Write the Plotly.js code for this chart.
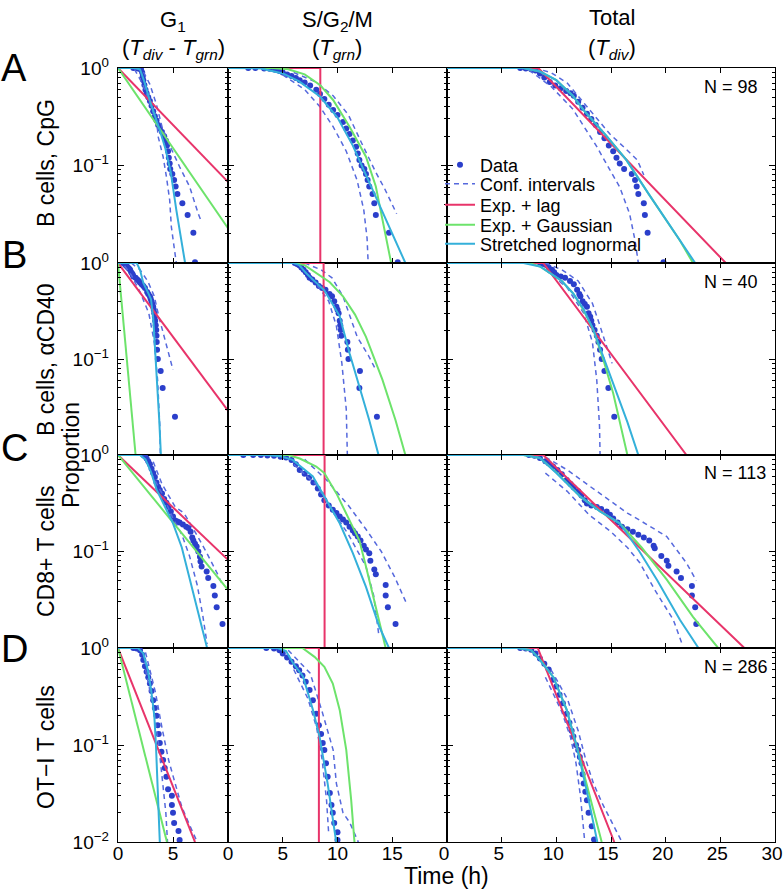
<!DOCTYPE html>
<html><head><meta charset="utf-8">
<script src="https://cdn.plot.ly/plotly-3.0.1.min.js"></script>
<style>html,body{margin:0;padding:0;background:#fff}</style>
</head><body><div id="chart" style="width:784px;height:892px"></div>
<script>
// ---------- Data (time in h, proportion remaining) ----------
// Row A: B cells, CpG  (N = 98)
const A1_dataT = [1.4,1.6,1.8,2.0,2.1,2.2,2.25,2.3,2.4,2.5,2.6,2.75,2.9,3.05,3.2,3.35,3.5,3.65,3.8,4.0,4.2,4.35,4.45,4.55,4.62,4.7,4.75,4.94,5.1,5.24,5.4,5.85,6.33,6.85,7.0];
const A1_dataP = [1.0,1.0,0.99,0.98,0.96,0.9,0.82,0.75,0.67,0.6,0.55,0.5,0.46,0.41,0.36,0.32,0.29,0.26,0.24,0.22,0.2,0.18,0.16,0.14,0.12,0.105,0.092,0.082,0.071,0.061,0.051,0.041,0.031,0.0204,0.0102];
const A1_ciLoT = [1.5,2.2,2.7,3.2,3.55,3.64,4.1,4.4,4.7,4.85,5.18,5.3];
const A1_ciLoP = [0.97,0.7,0.5,0.35,0.27,0.2,0.123,0.077,0.044,0.0235,0.0126,0.01];
const A1_ciHiT = [1.6,2.3,2.9,3.5,4.0,4.6,5.6,6.5,7.3,7.5];
const A1_ciHiP = [1.0,0.92,0.68,0.42,0.25,0.17,0.097,0.061,0.032,0.028];
const A1_lagT = [0,10];   const A1_lagP = [1,0.068];
const A1_gauT = [0,10];   const A1_gauP = [1,0.0227];
const A1_slnT = [0,1.5,2.0,2.4,2.9,3.3,3.8,4.3,4.8,5.3,5.8,6.1];
const A1_slnP = [1,1,0.97,0.72,0.46,0.34,0.23,0.15,0.085,0.035,0.016,0.01];

const A2_dataT = [1.85,2.5,3.3,3.8,4.3,4.7,5.0,5.4,5.8,6.2,6.55,7.0,7.5,8.06,8.4,8.8,9.2,9.6,10.0,10.5,10.8,11.1,11.4,11.7,11.85,12.0,12.2,12.45,12.6,12.75,12.9,13.2,13.36,13.5,14.7,15.5];
const A2_dataP = [1,1,0.99,0.98,0.96,0.93,0.9,0.86,0.83,0.79,0.75,0.71,0.66,0.6,0.54,0.48,0.42,0.37,0.33,0.28,0.24,0.21,0.18,0.156,0.133,0.114,0.1,0.092,0.082,0.071,0.061,0.051,0.041,0.031,0.0204,0.0102];
const A2_ciLoT = [5,7,8.4,9.6,10.8,11.8,12.4,12.7,12.8];
const A2_ciLoP = [0.85,0.6,0.4,0.25,0.14,0.07,0.035,0.018,0.01];
const A2_ciHiT = [6,8,9.6,11,12.2,13.5,14.3,15.4];
const A2_ciHiP = [0.9,0.72,0.52,0.33,0.17,0.085,0.058,0.032];
const A2_lagT = [0,8.43,8.43]; const A2_lagP = [1,1,0.001];
const A2_gauT = [0,4,5.5,7,8.4,9.6,11.1,12.6,13.5,14.4,14.9];
const A2_gauP = [1,1,0.97,0.86,0.67,0.47,0.25,0.123,0.061,0.02,0.01];
const A2_slnT = [0,3,5,6.5,8.4,10,11.4,12.6,13.8,15.3,16.2];
const A2_slnP = [1,0.99,0.88,0.73,0.51,0.31,0.16,0.08,0.04,0.017,0.01];

const A3_dataT = [6.7,7.2,7.7,8.1,8.5,8.9,9.4,9.9,10.4,10.9,11.3,11.6,12.0,12.4,12.8,13.2,13.6,14.0,14.4,14.8,15.2,15.5,15.8,16.2,16.9,17.2,17.35,17.5,18.0,18.1,18.35,19.8];
const A3_dataP = [1,0.99,0.97,0.94,0.88,0.8,0.72,0.66,0.62,0.58,0.55,0.52,0.45,0.39,0.34,0.3,0.26,0.22,0.19,0.16,0.14,0.12,0.105,0.092,0.082,0.071,0.061,0.051,0.041,0.031,0.0204,0.0102];
const A3_ciLoT = [7.5,9.5,11.5,13.7,14.9,15.8,16.7,17.2,17.5];
const A3_ciLoP = [0.95,0.65,0.38,0.156,0.09,0.06,0.032,0.017,0.01];
const A3_ciHiT = [8,9.5,11,13.1,14.9,16.3,17.4,18.0];
const A3_ciHiP = [1,0.9,0.7,0.37,0.21,0.15,0.114,0.08];
const A3_lagT = [0,8.35,25.5]; const A3_lagP = [1,1,0.01];
const A3_gauT = [0,7,8.5,10,11.5,12.5,14.6,16.4,18.5,21.3,22.5];
const A3_gauP = [1,1,0.92,0.75,0.52,0.37,0.2,0.114,0.05,0.017,0.01];
const A3_slnT = [0,7,8.5,10,11.5,12.5,14.6,16.4,18.5,21.3,22.7];
const A3_slnP = [1,1,0.92,0.75,0.52,0.37,0.2,0.114,0.05,0.017,0.01];

// Row B: B cells, aCD40 (N = 40)
const B1_dataT = [0.45,0.6,0.7,0.8,0.9,1.0,1.1,1.2,1.3,1.35,1.4,1.6,1.75,1.9,2.0,2.15,2.3,2.45,2.65,2.75,2.9,2.97,3.05,3.12,3.2,3.25,3.3,3.35,3.38,3.43,3.48,3.5,3.52,3.55,3.62,3.88,4.06,5.18];
const B1_dataP = [1,0.975,0.95,0.925,0.9,0.875,0.85,0.8,0.775,0.75,0.725,0.7,0.675,0.65,0.625,0.6,0.575,0.55,0.5,0.475,0.45,0.425,0.4,0.375,0.35,0.325,0.3,0.275,0.25,0.225,0.2,0.175,0.15,0.125,0.1,0.075,0.05,0.025];
const B1_ciLoT = [0.6,1.2,2,2.8,3.3,3.6,3.8,3.85];
const B1_ciLoP = [0.93,0.75,0.5,0.3,0.15,0.06,0.02,0.01];
const B1_ciHiT = [1.2,2.0,2.7,3.3,3.7,4.2,4.6,5.0];
const B1_ciHiP = [1,0.85,0.65,0.45,0.28,0.17,0.11,0.077];
const B1_lagT = [0,10];  const B1_lagP = [1,0.029];
const B1_gauT = [0,1.6]; const B1_gauP = [1,0.01];
const B1_slnT = [0,1.7,2.0,2.3,2.7,3.0,3.2,3.5,3.75,3.9];
const B1_slnP = [1,1,0.85,0.62,0.5,0.42,0.27,0.077,0.023,0.01];

const B2_dataT = [6.1,6.3,6.5,6.7,6.9,7.1,7.3,7.45,7.7,8.0,8.3,8.6,8.9,9.27,9.5,9.7,9.9,10.0,10.1,10.2,10.25,10.3,10.35,10.9,10.95,11.0,12.05,12.0,13.6];
const B2_dataP = [1,0.975,0.95,0.9,0.85,0.8,0.75,0.7,0.675,0.625,0.575,0.55,0.525,0.475,0.45,0.4,0.35,0.325,0.3,0.25,0.225,0.2,0.175,0.15,0.125,0.1,0.075,0.05,0.025];
const B2_ciLoT = [6.5,8,9.2,9.9,10.4,10.8,10.9];
const B2_ciLoP = [0.95,0.62,0.4,0.22,0.09,0.03,0.01];
const B2_ciHiT = [7,8.5,9.5,10.5,11.8,12.8,13.5];
const B2_ciHiP = [1,0.85,0.7,0.45,0.17,0.11,0.077];
const B2_lagT = [0,8.73,8.73]; const B2_lagP = [1,1,0.001];
const B2_gauT = [0,6.0,7.0,8.06,9.3,10.5,11.6,12.6,14.1,15.3,16.2];
const B2_gauP = [1,1,0.95,0.78,0.63,0.45,0.29,0.17,0.061,0.023,0.01];
const B2_slnT = [0,6,6.5,7.15,8.8,10.2,11.1,12.0,12.9,13.75];
const B2_slnP = [1,1,0.95,0.78,0.52,0.28,0.115,0.052,0.023,0.01];

const B3_dataT = [8.5,8.8,9.1,9.3,9.6,9.8,10.0,10.4,10.8,11.25,11.6,11.9,12.1,12.2,12.4,12.6,12.8,12.95,13.1,13.2,13.3,13.5,13.7,13.85,14.0,14.15,14.4,14.76,15.3];
const B3_dataP = [1,0.975,0.95,0.9,0.85,0.8,0.75,0.725,0.7,0.65,0.6,0.525,0.475,0.45,0.4,0.375,0.35,0.3,0.275,0.25,0.225,0.2,0.175,0.15,0.125,0.1,0.075,0.05,0.025];
const B3_ciLoT = [9,11,12.5,13.3,13.7,13.95,14.0];
const B3_ciLoP = [0.85,0.55,0.3,0.15,0.06,0.02,0.01];
const B3_ciHiT = [9,10.5,12,13.3,14.0,14.6,15.1];
const B3_ciHiP = [1,0.85,0.65,0.38,0.22,0.135,0.09];
const B3_lagT = [0,8.8,21.9]; const B3_lagP = [1,1,0.01];
const B3_gauT = [0,7.5,8.5,9.4,10.5,11.55,12.5,13.4,14.3,15.2,16.5];
const B3_gauP = [1,1,0.92,0.78,0.65,0.48,0.32,0.2,0.098,0.044,0.01];
const B3_slnT = [0,7,8.5,9.4,10.5,11.55,12.5,13.4,14.3,15.4,16.5,17.5];
const B3_slnP = [1,1,0.92,0.78,0.65,0.48,0.33,0.2,0.105,0.05,0.022,0.01];

// Row C: CD8+ T cells (N = 113)
const C1_dataT = [2.3,2.45,2.6,2.75,2.9,3.05,3.2,3.35,3.5,3.65,3.8,4.0,4.2,4.4,4.6,4.8,5.0,5.2,5.4,5.6,5.9,6.2,6.4,6.6,6.75,6.85,7.0,7.15,7.3,7.45,7.5,7.6,8.06,8.2,8.67,8.8,8.97,9.5];
const C1_dataP = [1,0.97,0.92,0.86,0.8,0.72,0.65,0.59,0.52,0.47,0.435,0.4,0.35,0.32,0.29,0.26,0.23,0.21,0.205,0.2,0.19,0.18,0.175,0.16,0.14,0.13,0.12,0.113,0.1,0.088,0.079,0.07,0.062,0.053,0.044,0.035,0.0265,0.0177];
const C1_ciLoT = [3,4,5,5.8,6.5,7.2,7.7,8.1];
const C1_ciLoP = [0.65,0.4,0.22,0.15,0.09,0.045,0.022,0.011];
const C1_ciHiT = [3.2,4,5.2,6,7,8,9,9.5];
const C1_ciHiP = [0.85,0.5,0.29,0.25,0.16,0.1,0.06,0.045];
const C1_lagT = [0,10]; const C1_lagP = [1,0.082];
const C1_gauT = [0,10]; const C1_gauP = [1,0.04];
const C1_slnT = [0,2.0,2.5,3.0,3.5,4.2,5.0,5.8,6.5,7.2,8.1];
const C1_slnP = [1,1,0.9,0.67,0.44,0.3,0.196,0.11,0.052,0.025,0.01];

const C2_dataT = [1.4,2.3,3.0,3.6,4.2,4.8,5.3,5.8,6.2,6.55,7.0,7.4,7.8,8.2,8.5,8.8,9.2,9.57,9.9,10.2,10.5,10.8,11.1,11.4,11.6,11.85,12.1,12.4,12.6,12.9,13.0,13.36,13.5,14.4,14.4,14.6,15.3];
const C2_dataP = [1,1,1,0.99,0.98,0.96,0.94,0.89,0.8,0.7,0.64,0.58,0.52,0.45,0.39,0.34,0.3,0.27,0.25,0.23,0.215,0.2,0.18,0.165,0.155,0.143,0.13,0.115,0.105,0.096,0.08,0.065,0.058,0.045,0.035,0.0265,0.0177];
const C2_ciLoT = [6,8,9.5,11,12.6,13.3,13.8];
const C2_ciLoP = [0.8,0.5,0.27,0.15,0.07,0.035,0.013];
const C2_ciHiT = [7,9,11,12.6,14,15.2,16.3];
const C2_ciHiP = [0.9,0.55,0.3,0.17,0.1,0.055,0.029];
const C2_lagT = [0,8.82,8.82]; const C2_lagP = [1,1,0.001];
const C2_gauT = [0,5.5,6.55,8.06,8.8,9.9,11.1,12.0,12.6,13.5,14.4];
const C2_gauP = [1,1,0.92,0.76,0.65,0.4,0.21,0.13,0.07,0.027,0.01];
const C2_slnT = [0,3.5,4.8,5.9,7.75,8.8,10.2,11.4,12.6,13.8,14.7];
const C2_slnP = [1,1,0.97,0.89,0.6,0.37,0.196,0.096,0.043,0.0168,0.01];

const C3_dataT = [7.5,8.0,8.5,9.0,9.3,9.7,10.1,10.5,10.95,11.3,11.6,12.0,12.3,12.6,12.8,13.2,13.7,14.1,14.6,14.9,15.2,15.6,16.0,16.5,17.0,17.5,18.0,18.5,18.9,19.0,19.6,20.1,20.25,21.0,21.4,22.4,22.4,22.7,22.8];
const C3_dataP = [1,0.98,0.93,0.86,0.82,0.76,0.7,0.63,0.55,0.5,0.46,0.42,0.38,0.34,0.315,0.3,0.29,0.275,0.26,0.24,0.22,0.2,0.18,0.17,0.16,0.149,0.14,0.13,0.115,0.108,0.09,0.08,0.071,0.062,0.053,0.044,0.035,0.0265,0.0177];
const C3_ciLoT = [9,11,13,15,16.5,17.65,19,20.7,21.5];
const C3_ciLoP = [0.65,0.42,0.24,0.16,0.11,0.076,0.04,0.0196,0.011];
const C3_ciHiT = [9,11,13,14.9,16.5,17.65,20.1,21.9,22.8];
const C3_ciHiP = [0.95,0.7,0.48,0.34,0.25,0.21,0.143,0.076,0.05];
const C3_lagT = [0,8.8,27.2]; const C3_lagP = [1,1,0.01];
const C3_gauT = [0,7,8.5,10,12.2,14,15.8,17.8,20.1,22.5,24.8];
const C3_gauP = [1,1,0.93,0.66,0.37,0.26,0.196,0.11,0.051,0.021,0.01];
const C3_slnT = [0,7,8.5,10,12.2,14,15.8,17.6,19.2,21.3,23.0];
const C3_slnP = [1,1,0.93,0.65,0.37,0.26,0.196,0.1,0.051,0.0196,0.01];

// Row D: OT-I T cells (N = 286)
const D1_dataT = [1.4,1.7,2.0,2.2,2.3,2.45,2.6,2.75,2.9,3.05,3.2,3.35,3.5,3.6,3.7,3.8,3.95,4.1,4.25,4.4,4.55,4.9,4.9,5.0,5.1,5.5,5.6];
const D1_dataP = [1,0.99,0.95,0.85,0.75,0.65,0.57,0.5,0.43,0.36,0.29,0.24,0.2,0.16,0.13,0.105,0.085,0.07,0.058,0.047,0.035,0.03,0.024,0.02,0.0157,0.013,0.0105];
const D1_ciLoT = [2.5,3.2,3.7,4.1,4.35,4.5];
const D1_ciLoP = [0.6,0.25,0.1,0.04,0.02,0.01];
const D1_ciHiT = [2.5,3.4,4.0,4.6,5.2,5.8,6.5,7.2];
const D1_ciHiP = [0.9,0.35,0.15,0.07,0.04,0.023,0.015,0.01];
const D1_lagT = [0,7]; const D1_lagP = [1,0.01];
const D1_gauT = [0,2.3,4.45]; const D1_gauP = [1,0.095,0.01];
const D1_slnT = [0,1.8,2.3,2.7,3.0,3.3,3.45,3.6,3.8];
const D1_slnP = [1,1,0.88,0.6,0.38,0.2,0.1,0.035,0.01];

const D2_dataT = [3.5,4.2,4.7,5.0,5.4,5.8,6.2,6.5,6.8,7.1,7.45,7.75,8.06,8.3,8.5,8.65,8.8,8.95,9.1,9.3,9.45,9.57,9.7,10.0,10.0];
const D2_dataP = [1,0.99,0.95,0.88,0.8,0.72,0.65,0.59,0.52,0.45,0.37,0.29,0.21,0.16,0.13,0.105,0.089,0.065,0.047,0.032,0.024,0.02,0.0157,0.0126,0.0105];
const D2_ciLoT = [6,7.3,8.1,8.6,9.0,9.2];
const D2_ciLoP = [0.6,0.3,0.15,0.07,0.027,0.012];
const D2_ciHiT = [5.5,7.5,8.6,9.3,9.6,9.9,10.5,11.1,11.9];
const D2_ciHiP = [0.95,0.55,0.22,0.12,0.089,0.04,0.02,0.016,0.01];
const D2_lagT = [0,8.3,8.3]; const D2_lagP = [1,1,0.001];
const D2_gauT = [0,6.8,7.9,8.8,9.57,10.2,10.8,11.25,11.55];
const D2_gauP = [1,1,0.81,0.64,0.43,0.23,0.089,0.027,0.01];
const D2_slnT = [0,4.5,5.3,5.94,6.85,7.76,8.36,9.1,9.88];
const D2_slnP = [1,1,0.93,0.7,0.51,0.23,0.122,0.04,0.01];

const D3_dataT = [6.7,7.2,7.7,8.1,8.5,8.9,9.3,9.7,10.0,10.3,10.6,10.95,11.2,11.4,11.56,11.8,12.0,12.15,12.3,12.4,12.5,12.65,12.8,12.95,13.24,13.45];
const D3_dataP = [1,0.99,0.96,0.88,0.78,0.69,0.6,0.47,0.4,0.33,0.27,0.21,0.17,0.14,0.122,0.1,0.089,0.075,0.065,0.05,0.04,0.033,0.027,0.02,0.0145,0.0106];
const D3_ciLoT = [9,10.5,11.3,11.8,12.2,12.45,12.6];
const D3_ciLoP = [0.5,0.22,0.12,0.065,0.03,0.015,0.01];
const D3_ciHiT = [9.5,11,12,12.7,13.4,14.2,15.2,16.0];
const D3_ciHiP = [0.6,0.3,0.14,0.07,0.04,0.025,0.015,0.01];
const D3_lagT = [0,8.3,15.3]; const D3_lagP = [1,1,0.01];
const D3_gauT = [0,6.5,7.7,8.5,9.73,10.95,11.87,12.9,14.15];
const D3_gauP = [1,1,0.95,0.76,0.5,0.23,0.097,0.035,0.01];
const D3_slnT = [0,6.5,7.7,8.5,9.73,10.95,11.87,12.8,13.75];
const D3_slnP = [1,1,0.95,0.75,0.5,0.23,0.096,0.033,0.01];

const rowNames = ['B cells, CpG','B cells, αCD40','CD8+ T cells','OT−I T cells'];
const rowLetters = ['A','B','C','D'];
const rowN = ['N = 98','N = 40','N = 113','N = 286'];
const seriesNames = ['Data','Conf. intervals','Exp. + lag','Exp. + Gaussian','Stretched lognormal'];

function P(dT,dP,loT,loP,hiT,hiP,lT,lP,gT,gP,sT,sP){
  return {dT,dP,loT,loP,hiT,hiP,lT,lP,gT,gP,sT,sP};
}
const panels = [
  P(A1_dataT,A1_dataP,A1_ciLoT,A1_ciLoP,A1_ciHiT,A1_ciHiP,A1_lagT,A1_lagP,A1_gauT,A1_gauP,A1_slnT,A1_slnP),
  P(A2_dataT,A2_dataP,A2_ciLoT,A2_ciLoP,A2_ciHiT,A2_ciHiP,A2_lagT,A2_lagP,A2_gauT,A2_gauP,A2_slnT,A2_slnP),
  P(A3_dataT,A3_dataP,A3_ciLoT,A3_ciLoP,A3_ciHiT,A3_ciHiP,A3_lagT,A3_lagP,A3_gauT,A3_gauP,A3_slnT,A3_slnP),
  P(B1_dataT,B1_dataP,B1_ciLoT,B1_ciLoP,B1_ciHiT,B1_ciHiP,B1_lagT,B1_lagP,B1_gauT,B1_gauP,B1_slnT,B1_slnP),
  P(B2_dataT,B2_dataP,B2_ciLoT,B2_ciLoP,B2_ciHiT,B2_ciHiP,B2_lagT,B2_lagP,B2_gauT,B2_gauP,B2_slnT,B2_slnP),
  P(B3_dataT,B3_dataP,B3_ciLoT,B3_ciLoP,B3_ciHiT,B3_ciHiP,B3_lagT,B3_lagP,B3_gauT,B3_gauP,B3_slnT,B3_slnP),
  P(C1_dataT,C1_dataP,C1_ciLoT,C1_ciLoP,C1_ciHiT,C1_ciHiP,C1_lagT,C1_lagP,C1_gauT,C1_gauP,C1_slnT,C1_slnP),
  P(C2_dataT,C2_dataP,C2_ciLoT,C2_ciLoP,C2_ciHiT,C2_ciHiP,C2_lagT,C2_lagP,C2_gauT,C2_gauP,C2_slnT,C2_slnP),
  P(C3_dataT,C3_dataP,C3_ciLoT,C3_ciLoP,C3_ciHiT,C3_ciHiP,C3_lagT,C3_lagP,C3_gauT,C3_gauP,C3_slnT,C3_slnP),
  P(D1_dataT,D1_dataP,D1_ciLoT,D1_ciLoP,D1_ciHiT,D1_ciHiP,D1_lagT,D1_lagP,D1_gauT,D1_gauP,D1_slnT,D1_slnP),
  P(D2_dataT,D2_dataP,D2_ciLoT,D2_ciLoP,D2_ciHiT,D2_ciHiP,D2_lagT,D2_lagP,D2_gauT,D2_gauP,D2_slnT,D2_slnP),
  P(D3_dataT,D3_dataP,D3_ciLoT,D3_ciLoP,D3_ciHiT,D3_ciHiP,D3_lagT,D3_lagP,D3_gauT,D3_gauP,D3_slnT,D3_slnP)
];

// ---------- Styling / layout ----------
const FONT = 'Liberation Sans, Arial, Helvetica, sans-serif';
const C_DATA = '#2b3fcb', C_CI = '#5669dd', C_LAG = '#e8346a', C_GAU = '#6de36b', C_SLN = '#34b0da';
const W = 784, H = 892;
const colPx = [[118,228],[228,447],[447,775]];
const rowPx = [[68,263],[263,455],[455,648],[648,842]];
const colRange = [[0,10],[0,20],[0,30]];
const colTicks = [[0,5,10],[0,5,10,15,20],[0,5,10,15,20,25,30]];
const colTickText = [['0','5',''],['0','5','10','15',''],['0','5','10','15','20','25','30']];
const colLabelShift = [0,0,-3];
const minorVals = [];
[0.01,0.1].forEach(d => { for (let m=2;m<=9;m++) minorVals.push(d*m); });

const traces = [];
const layout = {
  width: W, height: H, margin: {l:0,r:0,t:0,b:0},
  paper_bgcolor:'#fff', plot_bgcolor:'#fff',
  font: {family: FONT, color:'#000'},
  showlegend: true,
  annotations: [],
};

panels.forEach((p, k) => {
  const r = Math.floor(k/3), c = k%3;
  const sfx = k===0 ? '' : String(k+1);
  const xa = 'x'+sfx, ya = 'y'+sfx;
  const first = (k===0);
  traces.push({x:p.dT, y:p.dP, xaxis:xa, yaxis:ya, type:'scatter', mode:'markers', name:seriesNames[0],
    marker:{color:C_DATA, size:6}, showlegend:first, legend:'legend'});
  traces.push({x:p.loT, y:p.loP, xaxis:xa, yaxis:ya, type:'scatter', mode:'lines', name:seriesNames[1],
    line:{color:C_CI, width:1.5, dash:'5px,4px'}, showlegend:first, legend:'legend2'});
  traces.push({x:p.hiT, y:p.hiP, xaxis:xa, yaxis:ya, type:'scatter', mode:'lines', name:seriesNames[1],
    line:{color:C_CI, width:1.5, dash:'5px,4px'}, showlegend:false, legend:'legend2'});
  traces.push({x:p.lT, y:p.lP, xaxis:xa, yaxis:ya, type:'scatter', mode:'lines', name:seriesNames[2],
    line:{color:C_LAG, width:2}, showlegend:first, legend:'legend3'});
  traces.push({x:p.gT, y:p.gP, xaxis:xa, yaxis:ya, type:'scatter', mode:'lines', name:seriesNames[3],
    line:{color:C_GAU, width:2}, showlegend:first, legend:'legend4'});
  traces.push({x:p.sT, y:p.sP, xaxis:xa, yaxis:ya, type:'scatter', mode:'lines', name:seriesNames[4],
    line:{color:C_SLN, width:2}, showlegend:first, legend:'legend5'});

  layout['xaxis'+sfx] = {
    domain:[colPx[c][0]/W, colPx[c][1]/W], range:colRange[c], anchor:ya,
    tickvals: colTicks[c], ticktext: colTickText[c], showticklabels: r===3,
    ticklabeloverflow:'allow', ticklabelstandoff:-6, ticklabelshift: colLabelShift[c],
    ticks:'inside', ticklen:5, tickwidth:1, tickcolor:'#000', mirror:'allticks',
    showline:true, linecolor:'#000', linewidth:1.3, showgrid:false, zeroline:false,
    tickfont:{size:19, family:FONT, color:'#000'}
  };
  layout['yaxis'+sfx] = {
    domain:[1-rowPx[r][1]/H, 1-rowPx[r][0]/H], type:'log', range:[-2,0], anchor:xa,
    tickvals:[0.01,0.1,1],
    ticktext: r===3 ? ['10<sup>−2</sup>','10<sup>−1</sup>','10<sup>0</sup>'] : ['','10<sup>−1</sup>','10<sup>0</sup>'],
    showticklabels: c===0, ticklabelstandoff: 4, ticklabeloverflow:'allow',
    ticks:'inside', ticklen:6, tickwidth:1, tickcolor:'#000', mirror:'allticks',
    showline:true, linecolor:'#000', linewidth:1.3, showgrid:false, zeroline:false,
    minor:{tickvals:minorVals, ticks:'inside', ticklen:3, tickwidth:1, tickcolor:'#000', showgrid:false},
    tickfont:{size:19, family:FONT, color:'#000'}
  };
});

// legends (one entry each so the spacing can follow the reference)
const legY = [165,184,205,225,244];
['legend','legend2','legend3','legend4','legend5'].forEach((lg,i) => {
  layout[lg] = {x:440/W, xanchor:'left', y:1-legY[i]/H, yanchor:'middle',
    bgcolor:'rgba(0,0,0,0)', borderwidth:0, font:{size:18, family:FONT, color:'#000'}};
});

const ann = layout.annotations;
function A(text, xpx, ypx, size, extra){
  ann.push(Object.assign({text, x:xpx/W, y:1-ypx/H, xref:'paper', yref:'paper', showarrow:false,
    xanchor:'center', yanchor:'middle', font:{size, family:FONT, color:'#000'}}, extra||{}));
}
// column headers
A('G<sub>1</sub>', 173, 21, 22);
A('(<i>T<sub>div</sub></i> - <i>T<sub>grn</sub></i>)', 173, 49, 22);
A('S/G<sub>2</sub>/M', 337, 21, 22);
A('(<i>T<sub>grn</sub></i>)', 337, 49, 22);
A('Total', 612, 17, 22);
A('(<i>T<sub>div</sub></i>)', 612, 49, 22);
// row letters and labels
const letterY = [68,255,448,649];
const labelY = [163,360,552,747];
rowLetters.forEach((L,i) => A(L, 14, letterY[i], 38));
rowNames.forEach((t,i) => A(t, 46, labelY[i], 23, {textangle:-90}));
A('Proportion', 71, 455, 23, {textangle:-90});
A('Time (h)', 446, 876, 23);
// sample sizes
const nY = [87,282,473,667];
rowN.forEach((t,i) => A(t, 702, nY[i], 18, {xanchor:'left'}));

Plotly.newPlot('chart', traces, layout, {displayModeBar:false, staticPlot:true});
</script></body></html>
